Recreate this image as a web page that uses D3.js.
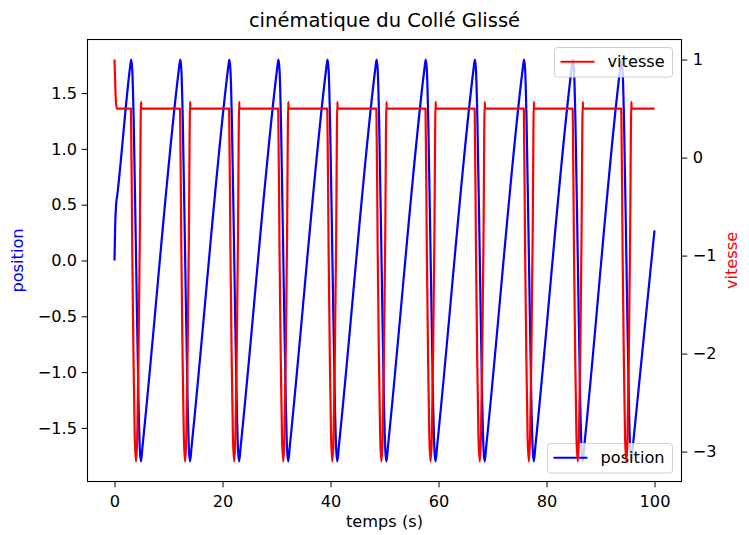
<!DOCTYPE html>
<html>
<head>
<meta charset="utf-8">
<script src="https://cdn.jsdelivr.net/npm/d3@7"></script>
<style>
  body { margin: 0; background: #fff; }
  svg { display: block; font-family: "DejaVu Sans", sans-serif; }
</style>
</head>
<body>
<div id="chart"></div>
<script>
// position (blue, left axis) : [temps, position]
const positionData = [
  [0, 0.00], [0.12, 0.30], [0.30, 0.50], [0.50, 0.58],
  [2.80, 1.70], [2.98, 1.77], [3.10, 1.80], [3.30, 1.70], [3.55, 1.27], [4.00, 0.00], [4.45, -1.27], [4.70, -1.70], [4.90, -1.80], [5.20, -1.66],
  [11.89, 1.70], [12.07, 1.77], [12.19, 1.80], [12.39, 1.70], [12.64, 1.27], [13.09, 0.00], [13.54, -1.27], [13.79, -1.70], [13.99, -1.80], [14.29, -1.66],
  [20.98, 1.70], [21.16, 1.77], [21.28, 1.80], [21.48, 1.70], [21.73, 1.27], [22.18, 0.00], [22.63, -1.27], [22.88, -1.70], [23.08, -1.80], [23.38, -1.66],
  [30.07, 1.70], [30.25, 1.77], [30.37, 1.80], [30.57, 1.70], [30.82, 1.27], [31.27, 0.00], [31.72, -1.27], [31.97, -1.70], [32.17, -1.80], [32.47, -1.66],
  [39.16, 1.70], [39.34, 1.77], [39.46, 1.80], [39.66, 1.70], [39.91, 1.27], [40.36, 0.00], [40.81, -1.27], [41.06, -1.70], [41.26, -1.80], [41.56, -1.66],
  [48.25, 1.70], [48.43, 1.77], [48.55, 1.80], [48.75, 1.70], [49.00, 1.27], [49.45, 0.00], [49.90, -1.27], [50.15, -1.70], [50.35, -1.80], [50.65, -1.66],
  [57.35, 1.70], [57.53, 1.77], [57.65, 1.80], [57.85, 1.70], [58.10, 1.27], [58.55, 0.00], [59.00, -1.27], [59.25, -1.70], [59.45, -1.80], [59.75, -1.66],
  [66.45, 1.70], [66.63, 1.77], [66.75, 1.80], [66.95, 1.70], [67.20, 1.27], [67.65, 0.00], [68.10, -1.27], [68.35, -1.70], [68.55, -1.80], [68.85, -1.66],
  [75.55, 1.70], [75.73, 1.77], [75.85, 1.80], [76.05, 1.70], [76.30, 1.27], [76.75, 0.00], [77.20, -1.27], [77.45, -1.70], [77.65, -1.80], [77.95, -1.66],
  [84.60, 1.70], [84.78, 1.77], [84.90, 1.80], [85.10, 1.70], [85.35, 1.27], [85.80, 0.00], [86.25, -1.27], [86.50, -1.70], [86.70, -1.80], [87.00, -1.66],
  [93.60, 1.70], [93.78, 1.77], [93.90, 1.80], [94.10, 1.70], [94.35, 1.27], [94.80, 0.00], [95.25, -1.27], [95.50, -1.70], [95.70, -1.80], [96.00, -1.66],
  [100, 0.27]
];

// vitesse (red, right axis) : [temps, vitesse]
const vitesseData = [
  [0, 1.00], [0.08, 0.85], [0.15, 0.72], [0.30, 0.55], [0.45, 0.50],
  [3.05, 0.50], [3.28, -0.90], [3.52, -2.05], [3.75, -2.85], [3.98, -3.10], [4.21, -2.85], [4.45, -2.00], [4.68, -0.85], [4.91, 0.57], [4.97, 0.50],
  [12.14, 0.50], [12.37, -0.90], [12.61, -2.05], [12.84, -2.85], [13.07, -3.10], [13.30, -2.85], [13.54, -2.00], [13.77, -0.85], [14.00, 0.57], [14.06, 0.50],
  [21.23, 0.50], [21.46, -0.90], [21.70, -2.05], [21.93, -2.85], [22.16, -3.10], [22.39, -2.85], [22.63, -2.00], [22.86, -0.85], [23.09, 0.57], [23.15, 0.50],
  [30.32, 0.50], [30.55, -0.90], [30.79, -2.05], [31.02, -2.85], [31.25, -3.10], [31.48, -2.85], [31.72, -2.00], [31.95, -0.85], [32.18, 0.57], [32.24, 0.50],
  [39.41, 0.50], [39.64, -0.90], [39.88, -2.05], [40.11, -2.85], [40.34, -3.10], [40.57, -2.85], [40.81, -2.00], [41.04, -0.85], [41.27, 0.57], [41.33, 0.50],
  [48.50, 0.50], [48.73, -0.90], [48.97, -2.05], [49.20, -2.85], [49.43, -3.10], [49.66, -2.85], [49.90, -2.00], [50.13, -0.85], [50.36, 0.57], [50.42, 0.50],
  [57.60, 0.50], [57.83, -0.90], [58.07, -2.05], [58.30, -2.85], [58.53, -3.10], [58.76, -2.85], [59.00, -2.00], [59.23, -0.85], [59.46, 0.57], [59.52, 0.50],
  [66.70, 0.50], [66.93, -0.90], [67.17, -2.05], [67.40, -2.85], [67.63, -3.10], [67.86, -2.85], [68.10, -2.00], [68.33, -0.85], [68.56, 0.57], [68.62, 0.50],
  [75.80, 0.50], [76.03, -0.90], [76.27, -2.05], [76.50, -2.85], [76.73, -3.10], [76.96, -2.85], [77.20, -2.00], [77.43, -0.85], [77.66, 0.57], [77.72, 0.50],
  [84.85, 0.50], [85.08, -0.90], [85.32, -2.05], [85.55, -2.85], [85.78, -3.10], [86.01, -2.85], [86.25, -2.00], [86.48, -0.85], [86.71, 0.57], [86.77, 0.50],
  [93.85, 0.50], [94.08, -0.90], [94.32, -2.05], [94.55, -2.85], [94.78, -3.10], [95.01, -2.85], [95.25, -2.00], [95.48, -0.85], [95.71, 0.57], [95.77, 0.50],
  [100, 0.50]
];

const xTicks = [0, 20, 40, 60, 80, 100];
const posTicks = [-1.5, -1.0, -0.5, 0.0, 0.5, 1.0, 1.5];
const vitTicks = [-3, -2, -1, 0, 1];

const width = 749, height = 535;
const plotLeft = 87.5, plotRight = 681.5, plotTop = 39.5, plotBottom = 481.5;
const fs = 16.2;

// matplotlib style 5% margins
function padded(ext) {
  const r = ext[1] - ext[0];
  return [ext[0] - 0.05 * r, ext[1] + 0.05 * r];
}

const x = d3.scaleLinear().domain(padded(d3.extent(positionData, d => d[0]))).range([plotLeft, plotRight]);
const yPos = d3.scaleLinear().domain(padded([-1.8, 1.8])).range([plotBottom, plotTop]);
const yVit = d3.scaleLinear().domain(padded(d3.extent(vitesseData, d => d[1]))).range([plotBottom, plotTop]);

const minus = s => s.replace("-", "\u2212");

const svg = d3.select("#chart").append("svg")
  .attr("width", width)
  .attr("height", height);

// axes
const xAxis = svg.append("g")
  .attr("transform", `translate(0,${plotBottom})`)
  .call(d3.axisBottom(x).tickValues(xTicks).tickSizeOuter(0).tickSize(5.8).tickPadding(8).tickFormat(d3.format("d")));

const yAxisL = svg.append("g")
  .attr("transform", `translate(${plotLeft},0)`)
  .call(d3.axisLeft(yPos).tickValues(posTicks).tickSizeOuter(0).tickSize(5.8).tickPadding(4.7).tickFormat(d => minus(d3.format(".1f")(d))));

const yAxisR = svg.append("g")
  .attr("transform", `translate(${plotRight},0)`)
  .call(d3.axisRight(yVit).tickValues(vitTicks).tickSizeOuter(0).tickSize(5.8).tickPadding(5.5).tickFormat(d => minus(d3.format("d")(d))));

[xAxis, yAxisL, yAxisR].forEach(g => {
  g.select(".domain").remove();
  g.selectAll(".tick line").attr("stroke", "#000").attr("stroke-width", 1);
  g.selectAll(".tick text").attr("font-family", "DejaVu Sans").attr("font-size", fs).attr("fill", "#000");
});

// position line (first axes)
const linePos = d3.line()
  .x(d => x(d[0]))
  .y(d => yPos(d[1]))
  .curve(d3.curveMonotoneX);

svg.append("path")
  .datum(positionData)
  .attr("fill", "none")
  .attr("stroke", "blue")
  .attr("stroke-width", 2.2)
  .attr("stroke-linejoin", "round")
  .attr("d", linePos);

// legend of position belongs to first axes, so drawn under the red line
function legend(x0, y0, w, h, color, label) {
  const g = svg.append("g");
  g.append("rect")
    .attr("x", x0).attr("y", y0).attr("width", w).attr("height", h)
    .attr("rx", 3)
    .attr("fill", "#fff").attr("fill-opacity", 0.8)
    .attr("stroke", "#d0d0d0").attr("stroke-width", 1);
  g.append("line")
    .attr("x1", x0 + 6).attr("x2", x0 + 40)
    .attr("y1", y0 + h / 2 - 0.5).attr("y2", y0 + h / 2 - 0.5)
    .attr("stroke", color).attr("stroke-width", 2.2);
  g.append("text")
    .attr("x", x0 + 53).attr("y", y0 + h / 2 + 5)
    .attr("font-size", fs)
    .attr("fill", "#000")
    .text(label);
}

legend(547.5, 443.5, 125, 29.5, "blue", "position");

const lineVit = d3.line()
  .x(d => x(d[0]))
  .y(d => yVit(d[1]))
  .curve(d3.curveMonotoneX);

svg.append("path")
  .datum(vitesseData)
  .attr("fill", "none")
  .attr("stroke", "red")
  .attr("stroke-width", 2.2)
  .attr("stroke-linejoin", "round")
  .attr("d", lineVit);

legend(554.5, 47.5, 118, 29.5, "red", "vitesse");

// frame
svg.append("rect")
  .attr("x", plotLeft).attr("y", plotTop)
  .attr("width", plotRight - plotLeft).attr("height", plotBottom - plotTop)
  .attr("fill", "none").attr("stroke", "#000").attr("stroke-width", 1.1);

// texts
svg.append("text")
  .attr("x", (plotLeft + plotRight) / 2).attr("y", 27)
  .attr("text-anchor", "middle")
  .attr("font-size", 19.5)
  .text("cinématique du Collé Glissé");

svg.append("text")
  .attr("x", (plotLeft + plotRight) / 2).attr("y", 527)
  .attr("text-anchor", "middle")
  .attr("font-size", fs)
  .text("temps (s)");

svg.append("text")
  .attr("transform", `translate(23,${(plotTop + plotBottom) / 2}) rotate(-90)`)
  .attr("text-anchor", "middle")
  .attr("font-size", fs)
  .attr("fill", "blue")
  .text("position");

svg.append("text")
  .attr("transform", `translate(736.5,${(plotTop + plotBottom) / 2}) rotate(-90)`)
  .attr("text-anchor", "middle")
  .attr("font-size", fs)
  .attr("fill", "red")
  .text("vitesse");
</script>
</body>
</html>
